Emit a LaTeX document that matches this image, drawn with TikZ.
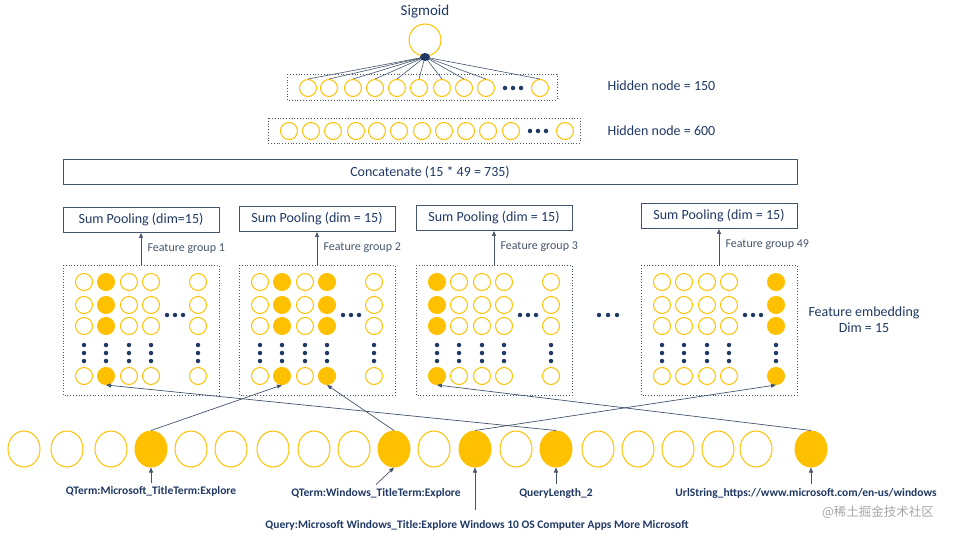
\documentclass[tikz,border=0pt]{standalone}
\usepackage{fontspec}
\setmainfont{Carlito}
\newfontfamily\cjk{Noto Sans CJK SC}
\usetikzlibrary{arrows.meta,shapes.geometric}
\definecolor{yel}{HTML}{FFC000}
\definecolor{navy}{HTML}{1F3864}
\definecolor{slate}{HTML}{44546A}
\begin{document}
\begin{tikzpicture}[x=1pt,y=-1pt,
  oc/.style={circle,draw=yel,line width=1pt,minimum size=17pt,inner sep=0},
  dotc/.style={circle,fill=navy,inner sep=0,minimum size=4.5pt},
  dbox/.style={draw=slate,dotted,line width=0.8pt},
  sbox/.style={draw=slate,line width=1pt,minimum height=25pt,font=\fontsize{14}{16}\selectfont,text=navy},
  lab/.style={font=\fontsize{12}{14}\selectfont,text=slate,anchor=west},
  big/.style={font=\fontsize{14}{16}\selectfont,text=navy},
  conn/.style={draw=slate,line width=0.7pt,-{Triangle[length=5pt,width=4pt]}},
  be/.style={ellipse,draw=yel,line width=1pt,minimum width=32pt,minimum height=36pt,inner sep=0},
  bl/.style={font=\bfseries\fontsize{11.5}{13}\selectfont,text=navy}]
\useasboundingbox (0,0) rectangle (975,540);
% Sigmoid
\node[big,font=\fontsize{15}{17}\selectfont] (sigt) at (425,12) {Sigmoid};
\node[oc,minimum size=32pt] (sig) at (425,40) {};
\coordinate (hub) at (425,57);
% hidden 150
\draw[dbox] (287,74) rectangle (557,100);
\foreach \x [count=\i] in {308,329,353,375,397,419,442,464,486,540}{
  \node[oc] (h\i) at (\x,88) {};
  \draw[slate,line width=0.6pt] (hub) -- (h\i.north);}
\fill[navy] (425,57) ellipse (5pt and 4pt);
\foreach \x in {505,513,521} \node[dotc] at (\x,88) {};
\node[big,anchor=west] (l150) at (604,86) {Hidden node = 150};
% hidden 600
\draw[dbox] (268,118) rectangle (580,143);
\foreach \x [count=\i] in {289,311,333,356,377,399,422,444,466,488,511,565}
  \node[oc] (k\i) at (\x,131) {};
\foreach \x in {530,538,546} \node[dotc] at (\x,131) {};
\node[big,anchor=west] (l600) at (604,131) {Hidden node = 600};
% concatenate
\node[sbox,minimum width=734pt] (cat) at (430,172) {Concatenate (15 * 49 = 735)};
% groups
\foreach \gx/\py/\bt/\lbl/\g in {63/220/265/{Sum Pooling (dim=15)}/1,239/219/265/{Sum Pooling (dim = 15)}/2,416/218/265/{Sum Pooling (dim = 15)}/3,641/216/265/{Sum Pooling (dim = 15)}/49}{
  \node[sbox,minimum width=156pt] (sp\g) at (\gx+78,\py) {\lbl};
  \draw[dbox] (\gx,\bt) rectangle (\gx+156,395);
  \coordinate (gt\g) at (\gx+78,\bt);
  \draw[conn] (gt\g) -- (sp\g.south);
  \node[lab] (fg\g) at (\gx+81,\py+29) {Feature group \g};
  \foreach \c/\dx in {1/21,2/43,3/66,4/88,5/135}{
    \foreach \r/\y in {1/282,2/305,3/326,4/376}
      \node[oc] (g\g c\c r\r) at (\gx+\dx,\y) {};
    \foreach \y in {345,353,361} \node[dotc] at (\gx+\dx,\y) {};
  }
  \foreach \dx in {104,112,120} \node[dotc] at (\gx+\dx,315) {};
}
% filled cells
\foreach \n in {g1c2r1,g1c2r2,g1c2r3,g1c2r4,g2c2r1,g2c2r2,g2c2r3,g2c2r4,g2c4r1,g2c4r2,g2c4r3,g2c4r4,g3c1r1,g3c1r2,g3c1r3,g3c1r4,g49c5r1,g49c5r2,g49c5r3,g49c5r4}
  \fill[yel] (\n) circle (8.5pt);
\foreach \x in {599,608,617} \node[dotc] at (\x,315) {};
\node[big,align=center] (fe) at (864,320) {Feature embedding\\Dim = 15};
% bottom row
\foreach \x [count=\i] in {24,67,111,151,191,231,273,314,354,394,434,475,516,556,598,638,678,718,756,811}
  \node[be] (b\i) at (\x,449) {};
\foreach \i in {4,10,12,14,20} \fill[yel] (b\i) ellipse (16pt and 18pt);
% connections
\draw[conn] (b4.north) -- (g2c2r4.south);
\draw[conn] (b10.north) -- (g2c4r4.south);
\draw[conn] (b14.north) -- (g1c2r4.south);
\draw[conn] (b12.north) -- (g49c5r4.south);
\draw[conn] (b20.north) -- (g3c1r4.south);
% labels
\node[bl] (q1) at (151,491) {QTerm:Microsoft\_TitleTerm:Explore};
\node[bl] (q2) at (376,493) {QTerm:Windows\_TitleTerm:Explore};
\node[bl] (q3) at (556,493) {QueryLength\_2};
\node[bl] (q4) at (806,493) {UrlString\_https://www.microsoft.com/en-us/windows};
\node[bl] (q5) at (477,525) {Query:Microsoft Windows\_Title:Explore  Windows 10 OS Computer Apps More Microsoft};
\draw[conn] (q1.north) -- (b4.south);
\draw[conn] (q2.north) -- (b10.south);
\draw[conn] (q3.north) -- (b14.south);
\draw[conn] (q4.north -| b20) -- (b20.south);
\coordinate (q5a) at (475,510);
\draw[conn] (q5a) -- (b12.south);
\node[font=\cjk\fontsize{12.5}{14}\selectfont,text=gray!70] (wm) at (878,512) {@稀土掘金技术社区};
\end{tikzpicture}
\end{document}
